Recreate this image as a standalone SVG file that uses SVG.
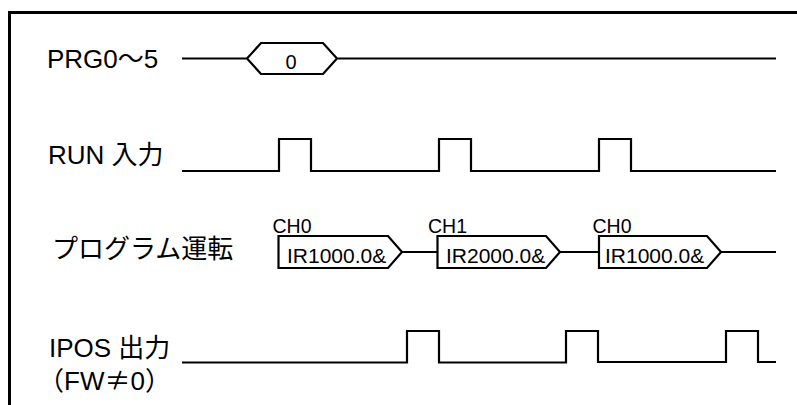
<svg xmlns="http://www.w3.org/2000/svg" width="797" height="405" viewBox="0 0 797 405">
<style>
.lbl{font-family:"Liberation Sans","Noto Sans CJK JP",sans-serif;font-size:26px;fill:#000}
.cjk{font-family:"Noto Sans CJK JP",sans-serif}
.sm{font-family:"Liberation Sans","Noto Sans CJK JP",sans-serif;font-size:21px;fill:#000}
.ch{font-family:"Liberation Sans",sans-serif;font-size:19.5px;fill:#000}
.w{fill:none;stroke:#000;stroke-width:2.2;stroke-linejoin:miter}
.frame{fill:none;stroke:#000;stroke-width:3}
</style>
<rect width="797" height="405" fill="#fff"/>
<path class="frame" d="M9.5,405 V12.5 H797"/>
<g id="prg">
<text class="lbl" x="47" y="67.5">PRG0〜5</text>
<path class="w" d="M182,58.5 H247 M247,58.5 L261,43 H323 L337,58.5 L323,74 H261 Z M337,58.5 H776"/>
<text class="sm" x="291" y="69" text-anchor="middle" style="font-size:20px">0</text>
</g>
<g id="run">
<text class="lbl" x="48" y="163.5">RUN 入力</text>
<path class="w" d="M182,171 H279 V139 H311 V171 H439 V139 H471 V171 H599 V139 H631 V171 H776"/>
</g>
<g id="program">
<text class="lbl" x="52" y="258">プログラム運転</text>
<g id="conn">
<path class="w" d="M402,252 H437 M560,252 H599 M721,252 H776"/>
</g>
<g id="box1">
<text class="ch" x="272.5" y="232.5">CH0</text>
<path class="w" d="M278.5,236 H388 L402,252 L388,268 H278.5 Z"/>
<text class="sm" x="287" y="262.5">IR1000.0&amp;</text>
</g>
<g id="box2">
<text class="ch" x="428" y="232.5">CH1</text>
<path class="w" d="M437.5,236 H546 L560,252 L546,268 H437.5 Z"/>
<text class="sm" x="446" y="262.5">IR2000.0&amp;</text>
</g>
<g id="box3">
<text class="ch" x="592.5" y="232.5">CH0</text>
<path class="w" d="M599,236 H707 L721,252 L707,268 H599 Z"/>
<text class="sm" x="605" y="262.5">IR1000.0&amp;</text>
</g>
</g>
<g id="ipos">
<text class="lbl" x="49" y="356.5">IPOS 出力</text>
<text class="lbl" x="38" y="390"><tspan class="cjk">（</tspan>FW<tspan class="cjk">≠</tspan>0<tspan class="cjk">）</tspan></text>
<path class="w" d="M182,362.5 H407 V331 H439 V362.5 H566 V331 H598 V362 H726 V331 H758 V362 H776"/>
</g>
</svg>
